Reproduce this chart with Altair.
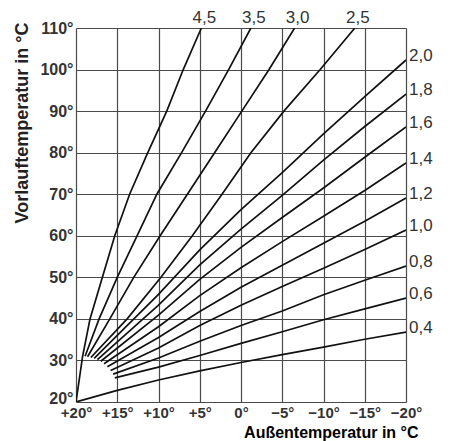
import altair as alt
import pandas as pd

# ---- data ----
curve_names = ["4,5", "3,5", "3,0", "2,5", "2,0", "1,8", "1,6", "1,4", "1,2", "1,0", "0,8", "0,6", "0,4"]

x_45 = [20, 19.2, 18.3, 16.8, 15.3, 13.5, 11.3, 9.0, 7.0, 4.8]
y_45 = [20, 31, 40, 50, 60, 70, 80, 90, 100, 110]
x_35 = [18.9, 17.2, 15.0, 12.6, 10.2, 7.2, 4.3, 1.5, -1.2]
y_35 = [31, 40, 50, 60, 70, 80, 90, 100, 110]
x_30 = [18.6, 15.9, 13.0, 9.8, 6.5, 3.2, -0.1, -3.4, -6.5]
y_30 = [30.9, 40, 50, 60, 70, 80, 90, 100, 110]
x_25 = [18.2, 13.8, 9.7, 5.9, 2.3, -1.2, -5.2, -9.6, -13.8]
y_25 = [30.7, 40, 50, 60, 70, 80, 90, 100, 110]

x_20 = [17.8, 10, 5, 0, -5, -10, -15, -20]
y_20 = [30.5, 45.9, 56.6, 66.3, 75.2, 84.5, 93.5, 102.3]
x_18 = [17.4, 10, 5, 0, -5, -10, -15, -20]
y_18 = [30.2, 43.3, 53.0, 61.6, 69.7, 78.2, 86.3, 94.1]
x_16 = [17.0, 10, 5, 0, -5, -10, -15, -20]
y_16 = [29.8, 40.9, 49.5, 57.2, 64.4, 71.5, 78.9, 86.2]
x_14 = [16.6, 10, 5, 0, -5, -10, -15, -20]
y_14 = [29.2, 38.1, 45.6, 52.3, 58.6, 64.7, 70.9, 77.5]
x_12 = [16.2, 10, 5, 0, -5, -10, -15, -20]
y_12 = [28.5, 35.5, 41.8, 47.6, 52.9, 58.2, 63.5, 69.1]
x_10 = [15.8, 10, 5, 0, -5, -10, -15, -20]
y_10 = [27.6, 33.0, 38.4, 43.3, 47.8, 52.2, 56.7, 61.4]
x_08 = [15.5, 10, 5, 0, -5, -10, -15, -20]
y_08 = [26.7, 30.6, 34.6, 38.4, 41.9, 45.8, 49.3, 52.7]
x_06 = [15.3, 10, 5, 0, -5, -10, -15, -20]
y_06 = [25.8, 28.4, 31.2, 34.1, 36.9, 39.8, 42.4, 45.0]
x_04 = [20, 15, 10, 5, 0, -5, -10, -15, -20]
y_04 = [20, 22.8, 25.3, 27.5, 29.5, 31.4, 33.2, 35.1, 36.8]

x_ticks = [20, 15, 10, 5, 0, -5, -10, -15, -20]
x_tick_labels = ["+20°", "+15°", "+10°", "+5°", "0°", "−5°", "−10°", "−15°", "−20°"]
y_ticks = [20, 30, 40, 50, 60, 70, 80, 90, 100, 110]
y_tick_labels = ["20°", "30°", "40°", "50°", "60°", "70°", "80°", "90°", "100°", "110°"]

# ---- build table ----
xs_all = [x_45, x_35, x_30, x_25, x_20, x_18, x_16, x_14, x_12, x_10, x_08, x_06, x_04]
ys_all = [y_45, y_35, y_30, y_25, y_20, y_18, y_16, y_14, y_12, y_10, y_08, y_06, y_04]
rows = []
labels = []
for name, xs, ys in zip(curve_names, xs_all, ys_all):
    for i, (a, b) in enumerate(zip(xs, ys)):
        rows.append({"curve": name, "i": i, "t_out": a, "t_flow": b})
    labels.append({"curve": name, "t_out": xs[-1], "t_flow": ys[-1],
                   "top": ys[-1] >= 110})
df = pd.DataFrame(rows)
lab = pd.DataFrame(labels)

def lookup_expr(ticks, texts):
    parts = ", ".join(f"'{t}': '{s}'" for t, s in zip(ticks, texts))
    return f"({{{parts}}})[datum.value + '']"

FONT = "Liberation Sans"
xscale = alt.Scale(domain=[20, -20], nice=False)
yscale = alt.Scale(domain=[20, 110], nice=False)

base = alt.Chart(df)

lines = base.mark_line(color="#111", strokeWidth=1.7, clip=True).encode(
    x=alt.X("t_out:Q", scale=xscale,
            axis=alt.Axis(values=x_ticks, labelExpr=lookup_expr(x_ticks, x_tick_labels),
                          grid=True, gridColor="#4a4a4a", gridWidth=1.2, ticks=False,
                          domain=False, labelFont=FONT, labelFontSize=15,
                          labelFontWeight="bold", labelColor="#333", labelPadding=3,
                          title="Außentemperatur in °C", titleFont=FONT,
                          titleFontSize=16, titleFontWeight="bold", titleColor="#000",
                          titleAnchor="end", titleAlign="right", titleX=342, titleY=35,
                          titleBaseline="alphabetic", labelFlush=False)),
    y=alt.Y("t_flow:Q", scale=yscale,
            axis=alt.Axis(values=y_ticks, labelExpr=lookup_expr(y_ticks, y_tick_labels),
                          grid=True, gridColor="#4a4a4a", gridWidth=1.2, ticks=False,
                          domain=False, labelFont=FONT, labelFontSize=16,
                          labelFontWeight="bold", labelColor="#333", labelPadding=3,
                          labelOffset={"condition": {"test": "datum.value == 20", "value": -4},
                                       "value": 0},
                          title="Vorlauftemperatur in °C", titleFont=FONT,
                          titleFontSize=18, titleFontWeight="bold", titleColor="#222",
                          titleAngle=-90, titleAlign="right", titleBaseline="alphabetic",
                          titleX=-49, titleY=-6, labelFlush=False)),
    detail="curve:N",
    order="i:Q",
)

top_labels = alt.Chart(lab).transform_filter("datum.top").mark_text(
    font=FONT, fontSize=17, color="#333", dx=3, dy=-10, align="center", baseline="middle"
).encode(x=alt.X("t_out:Q", scale=xscale), y=alt.Y("t_flow:Q", scale=yscale), text="curve:N")

right_labels = alt.Chart(lab).transform_filter("!datum.top").mark_text(
    font=FONT, fontSize=17, color="#333", dx=3, dy=-4, align="left", baseline="middle"
).encode(x=alt.X("t_out:Q", scale=xscale), y=alt.Y("t_flow:Q", scale=yscale), text="curve:N")

chart = alt.layer(lines, top_labels, right_labels).properties(
    width=330, height=374,
    autosize=alt.AutoSizeParams(type="none"),
    padding={"left": 76, "top": 28, "right": 44, "bottom": 39},
).configure_view(stroke="#333", strokeWidth=1.4).configure(background="white")

chart.save("out.html", embed_options={"renderer": "svg", "actions": False})
